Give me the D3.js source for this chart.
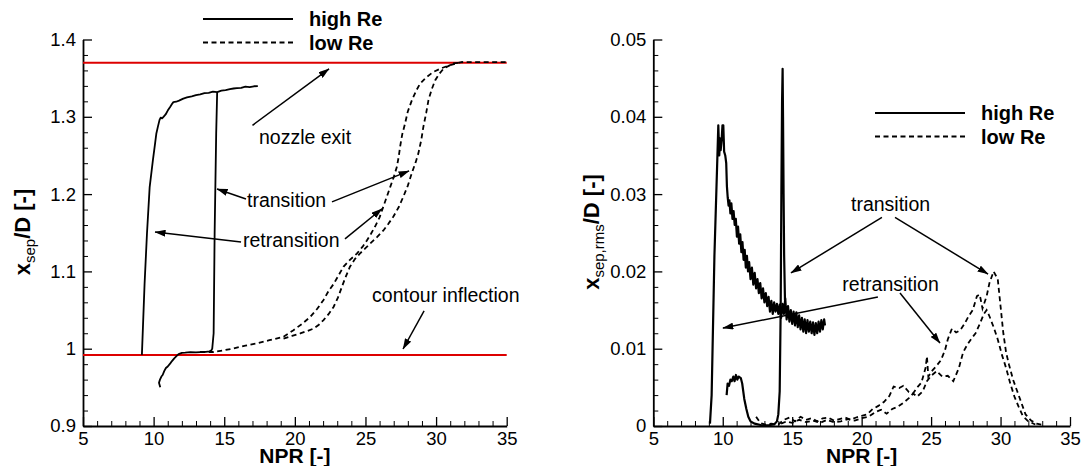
<!DOCTYPE html>
<html>
<head>
<meta charset="utf-8">
<script src="https://cdn.jsdelivr.net/npm/d3@7"></script>
<style>
  body { margin: 0; background: #fff; }
  svg text { font-family: "Liberation Sans", Arial, sans-serif; fill: #000; }
</style>
</head>
<body>
<div id="chart"></div>
<script>
// ---- data ----
var xTicks = [5, 10, 15, 20, 25, 30, 35];
var xMinor = [6,7,8,9,11,12,13,14,16,17,18,19,21,22,23,24,26,27,28,29,31,32,33,34];
var leftYTicks = [0.9, 1, 1.1, 1.2, 1.3, 1.4];
var leftYMinor = [0.92,0.94,0.96,0.98,1.02,1.04,1.06,1.08,1.12,1.14,1.16,1.18,1.22,1.24,1.26,1.28,1.32,1.34,1.36,1.38];
var rightYTicks = [0, 0.01, 0.02, 0.03, 0.04, 0.05];
var rightYMinor = [0.002,0.004,0.006,0.008,0.012,0.014,0.016,0.018,0.022,0.024,0.026,0.028,0.032,0.034,0.036,0.038,0.042,0.044,0.046,0.048];

var nozzleExit = 1.37;
var contourInflection = 0.992;

// left: x_sep/D, high Re (transition branch, then top + retransition branch)
var highUpLeft = [[10.47,0.950],[10.38,0.956],[10.45,0.960],[10.55,0.964],[10.64,0.966],[10.75,0.971],[10.87,0.975],[11.0,0.977],[11.18,0.981],[11.3,0.984],[11.46,0.9875],[11.6,0.990],[11.77,0.993],[12.0,0.9945],[12.24,0.9948],[12.6,0.9955],[13.0,0.9952],[13.3,0.9957],[13.7,0.996],[13.96,0.9966],[14.1,0.998],[14.15,1.0],[14.2,1.01],[14.25,1.02],[14.32,1.149],[14.43,1.278],[14.5,1.332]];
var highTopLeft = [[17.38,1.3397],[17.1,1.3395],[16.8,1.3385],[16.5,1.339],[16.2,1.3375],[15.9,1.3372],[15.66,1.3366],[15.4,1.3358],[15.1,1.3345],[14.8,1.3338],[14.5,1.332],[14.2,1.3325],[13.9,1.331],[13.6,1.3305],[13.3,1.329],[13.0,1.328],[12.7,1.3265],[12.36,1.325],[12.1,1.3235],[11.8,1.321],[11.6,1.3195],[11.4,1.319],[11.3,1.3165],[11.18,1.313],[11.0,1.308],[10.85,1.303],[10.7,1.30],[10.6,1.298],[10.5,1.299],[10.42,1.296],[10.3,1.287],[10.19,1.278],[10.1,1.265],[9.95,1.244],[9.72,1.209],[9.53,1.149],[9.36,1.084],[9.17,0.992]];
// left: low Re, two branches
var lowALeft = [[13.3,0.9957],[14.25,0.9957],[15.0,0.998],[15.66,1.0004],[16.5,1.004],[17.31,1.0069],[18.2,1.011],[19.2,1.0155],[19.9,1.024],[20.5,1.032],[21.08,1.041],[21.6,1.052],[22.03,1.063],[22.4,1.075],[22.74,1.0836],[23.1,1.095],[23.44,1.106],[23.9,1.115],[24.39,1.123],[24.8,1.132],[25.1,1.14],[25.4,1.149],[25.68,1.158],[26.0,1.17],[26.27,1.184],[26.5,1.196],[26.75,1.209],[27.0,1.222],[27.22,1.235],[27.35,1.248],[27.45,1.261],[27.6,1.277],[27.8,1.291],[28.0,1.307],[28.3,1.322],[28.6,1.334],[28.87,1.343],[29.3,1.351],[29.8,1.358],[30.4,1.363],[31.0,1.367],[31.8,1.3707],[35,1.3707]];
var lowBLeft = [[19.2,1.013],[19.8,1.0165],[20.38,1.0198],[20.9,1.023],[21.32,1.026],[21.7,1.031],[22.03,1.037],[22.4,1.045],[22.74,1.054],[23.05,1.066],[23.33,1.080],[23.6,1.093],[23.9,1.106],[24.25,1.116],[24.6,1.123],[25.0,1.13],[25.33,1.136],[25.8,1.144],[26.27,1.153],[26.6,1.161],[26.98,1.171],[27.35,1.183],[27.69,1.197],[28.0,1.211],[28.28,1.227],[28.55,1.241],[28.75,1.253],[28.95,1.27],[29.1,1.287],[29.3,1.305],[29.46,1.3216],[29.7,1.336],[29.93,1.347],[30.2,1.355],[30.52,1.362],[31.2,1.369],[31.9,1.3707]];

// right: x_sep,rms/D, high Re
var highDownRight = [[9.08,0.0003],[9.2,0.004],[9.4,0.022],[9.6,0.034],[9.68,0.0389],[9.75,0.035],[9.8,0.0372],[9.85,0.0357],[9.92,0.037],[9.98,0.0389],[10.04,0.0389],[10.1,0.0355],[10.18,0.035],[10.25,0.034],[10.3,0.031],[10.36,0.0295],[10.42,0.0285],[10.48,0.0292],[10.55,0.0275],[10.62,0.0288],[10.7,0.0268],[10.78,0.0278],[10.86,0.026],[10.94,0.0268],[11.02,0.0245],[11.1,0.0258],[11.18,0.0236],[11.26,0.0248],[11.34,0.0225],[11.42,0.0238],[11.5,0.0215],[11.58,0.0228],[11.66,0.0205],[11.74,0.022],[11.82,0.02],[11.9,0.0212],[12.0,0.019],[12.1,0.0205],[12.2,0.0183],[12.3,0.0198],[12.4,0.0178],[12.5,0.019],[12.6,0.0172],[12.7,0.0185],[12.8,0.0165],[12.9,0.0178],[13.0,0.016],[13.1,0.0172],[13.2,0.0155],[13.3,0.0167],[13.4,0.0148],[13.5,0.0162],[13.6,0.0145],[13.7,0.016],[13.8,0.0148],[13.9,0.0158],[14.0,0.0145],[14.1,0.0157],[14.2,0.014],[14.3,0.0158],[14.4,0.0145],[14.5,0.0165],[14.6,0.0138],[14.7,0.0155],[14.8,0.0135],[14.9,0.015],[15.0,0.0132],[15.1,0.0148],[15.2,0.013],[15.3,0.0147],[15.4,0.0128],[15.5,0.0143],[15.6,0.0125],[15.7,0.014],[15.8,0.0122],[15.9,0.0138],[16.0,0.012],[16.1,0.0137],[16.2,0.0122],[16.3,0.0135],[16.4,0.012],[16.5,0.0134],[16.6,0.0118],[16.7,0.0133],[16.8,0.012],[16.9,0.0135],[17.0,0.0122],[17.1,0.0137],[17.2,0.0125],[17.3,0.0138],[17.36,0.013]];
var highUpRight = [[10.28,0.004],[10.35,0.0055],[10.45,0.0052],[10.55,0.006],[10.65,0.0058],[10.76,0.0064],[10.85,0.0058],[10.95,0.0066],[11.05,0.006],[11.15,0.0064],[11.3,0.0062],[11.4,0.0055],[11.55,0.0035],[11.7,0.0022],[11.84,0.0012],[12.0,0.0006],[12.3,0.0003],[12.8,0.0001],[13.3,0.0001],[13.7,0.0002],[13.9,0.0006],[14.0,0.0015],[14.1,0.0045],[14.17,0.015],[14.22,0.03],[14.27,0.042],[14.31,0.0462],[14.34,0.04],[14.38,0.03],[14.42,0.022],[14.48,0.0163]];
// right: low Re, two branches
var lowARight = [[12.4,0.0012],[12.7,0.0004],[13.0,0.0002],[13.5,0.0003],[14.0,0.0002],[14.4,0.0008],[14.8,0.0011],[15.2,0.0006],[15.6,0.0012],[16.0,0.0008],[16.4,0.001],[16.8,0.0006],[17.2,0.001],[17.6,0.0011],[18.0,0.0007],[18.4,0.0009],[18.8,0.0011],[19.2,0.0008],[19.6,0.0011],[20.0,0.0013],[20.4,0.0015],[20.8,0.0022],[21.2,0.0026],[21.6,0.0031],[22.0,0.0039],[22.3,0.0051],[22.7,0.0049],[23.0,0.0052],[23.4,0.0044],[23.7,0.0042],[24.0,0.005],[24.3,0.0056],[24.6,0.0075],[24.7,0.009],[24.8,0.0064],[25.1,0.0072],[25.4,0.0078],[25.7,0.0085],[26.0,0.0098],[26.2,0.0112],[26.5,0.0126],[26.8,0.0121],[27.1,0.0124],[27.4,0.0132],[27.7,0.0142],[28.0,0.015],[28.3,0.0168],[28.5,0.017],[28.7,0.0152],[29.0,0.0168],[29.2,0.0185],[29.5,0.02],[29.8,0.019],[30.0,0.0155],[30.2,0.012],[30.4,0.0095],[30.6,0.008],[30.9,0.006],[31.2,0.0045],[31.5,0.003],[31.8,0.0015],[32.2,0.0007],[32.6,0.0003],[33.1,0.0001]];
var lowBRight = [[14.2,0.0003],[14.6,0.0006],[15.0,0.0004],[15.5,0.0008],[16.0,0.0005],[16.5,0.0007],[17.0,0.0004],[17.5,0.0008],[18.0,0.0005],[18.5,0.0006],[19.0,0.0009],[19.5,0.0007],[20.0,0.001],[20.5,0.0012],[21.0,0.0018],[21.4,0.0021],[21.8,0.0016],[22.2,0.0022],[22.6,0.0025],[23.0,0.003],[23.4,0.0036],[23.7,0.0042],[24.0,0.0038],[24.4,0.0045],[24.7,0.0058],[25.0,0.0065],[25.4,0.0071],[25.8,0.0064],[26.2,0.0065],[26.6,0.0058],[27.0,0.0075],[27.3,0.0095],[27.6,0.0105],[27.9,0.0113],[28.2,0.012],[28.5,0.0132],[28.8,0.0145],[29.0,0.015],[29.2,0.0142],[29.5,0.0128],[29.8,0.0112],[30.1,0.0092],[30.4,0.0075],[30.7,0.0055],[31.0,0.0038],[31.3,0.0025],[31.6,0.0013],[32.0,0.0006],[32.5,0.0002]];

// annotations (data coordinates): text [x, y, label, anchor], arrows [x1, y1, x2, y2]
var leftLabels = [[17.46,1.265,"nozzle exit","start"],[16.61,1.183,"transition","start"],[16.33,1.1316,"retransition","start"],[25.47,1.0604,"contour inflection","start"]];
var leftArrows = [[17.0,1.289,22.42,1.362],[16.54,1.1937,14.49,1.2066],[22.63,1.19,28.09,1.23],[16.19,1.138,10.1,1.151],[23.55,1.142,26.17,1.181],[29.15,1.0488,27.66,0.9996]];
var rightLabels = [[22.08,0.0278,"transition","middle"],[22.08,0.01746,"retransition","middle"]];
var rightArrows = [[21.46,0.027,14.91,0.0198],[22.4,0.027,29.1,0.01965],[21.17,0.01668,10.01,0.01267],[22.76,0.0172,25.64,0.01073]];

var legendItems = ["high Re", "low Re"];

// ---- drawing ----
var width = 1091, height = 466;
var svg = d3.select("#chart").append("svg")
            .attr("width", width)
            .attr("height", height);

svg.append("defs").append("marker")
    .attr("id", "arrow")
    .attr("markerUnits", "userSpaceOnUse")
    .attr("viewBox", "0 0 11 7")
    .attr("refX", 10.5).attr("refY", 3.5)
    .attr("markerWidth", 11).attr("markerHeight", 7)
    .attr("orient", "auto")
    .append("path")
    .attr("d", "M0,0 L11,3.5 L0,7 Z")
    .attr("fill", "#000");

var dash = "5,3.5";

function drawPanel(p) {
    var x = d3.scaleLinear().domain([5, 35]).range([p.left, p.right]);
    var y = d3.scaleLinear().domain(p.yDomain).range([426, 39.5]);

    // minor ticks
    svg.append("g")
        .attr("transform", "translate(0,426)")
        .call(d3.axisBottom(x).tickValues(xMinor).tickSize(-5).tickFormat(""))
        .call(g => g.select(".domain").remove());
    svg.append("g")
        .attr("transform", "translate(" + p.left + ",0)")
        .call(d3.axisLeft(y).tickValues(p.yMinor).tickSize(-5).tickFormat(""))
        .call(g => g.select(".domain").remove());

    // major ticks + labels
    var gx = svg.append("g")
        .attr("transform", "translate(0,426)")
        .call(d3.axisBottom(x).tickValues(xTicks).tickSize(-9).tickSizeOuter(0).tickPadding(6).tickFormat(d => String(d)));
    var gy = svg.append("g")
        .attr("transform", "translate(" + p.left + ",0)")
        .call(d3.axisLeft(y).tickValues(p.yTicks).tickSize(-9).tickSizeOuter(0).tickPadding(7).tickFormat(d => String(d)));

    [gx, gy].forEach(function(g) {
        g.selectAll("text").attr("font-size", 18.5).attr("font-family", null);
        g.selectAll("line").attr("stroke", "#000").attr("stroke-width", 1.3);
        g.select(".domain").attr("stroke", "#000").attr("stroke-width", 1.8);
    });

    var line = d3.line().x(d => x(d[0])).y(d => y(d[1]));

    // reference lines
    (p.refLines || []).forEach(function(v) {
        svg.append("line")
            .attr("x1", x(5)).attr("x2", x(35))
            .attr("y1", y(v)).attr("y2", y(v))
            .attr("stroke", "#dd0000").attr("stroke-width", 2);
    });

    p.solid.forEach(function(s) {
        svg.append("path").datum(s)
            .attr("d", line).attr("fill", "none")
            .attr("stroke", "#000").attr("stroke-width", p.solidWidth)
            .attr("stroke-linejoin", "round");
    });
    p.dashed.forEach(function(s) {
        svg.append("path").datum(s)
            .attr("d", line).attr("fill", "none")
            .attr("stroke", "#000").attr("stroke-width", 1.8)
            .attr("stroke-dasharray", dash);
    });

    // annotations
    svg.selectAll(null).data(p.labels).enter().append("text")
        .attr("x", d => x(d[0])).attr("y", d => y(d[1]))
        .attr("text-anchor", d => d[3])
        .attr("font-size", 19.5)
        .text(d => d[2]);
    svg.selectAll(null).data(p.arrows).enter().append("line")
        .attr("x1", d => x(d[0])).attr("y1", d => y(d[1]))
        .attr("x2", d => x(d[2])).attr("y2", d => y(d[3]))
        .attr("stroke", "#000").attr("stroke-width", 1.5)
        .attr("marker-end", "url(#arrow)");

    // legend
    legendItems.forEach(function(name, i) {
        var ly = p.legend[1] + i * 23.5;
        svg.append("line")
            .attr("x1", p.legend[0]).attr("x2", p.legend[0] + 90)
            .attr("y1", ly).attr("y2", ly)
            .attr("stroke", "#000").attr("stroke-width", 1.8)
            .attr("stroke-dasharray", i === 0 ? null : dash);
        svg.append("text")
            .attr("x", p.legend[0] + 106).attr("y", ly + 7)
            .attr("font-size", 20).attr("font-weight", "bold")
            .text(name);
    });

    // axis titles
    svg.append("text")
        .attr("x", (p.left + p.right) / 2).attr("y", 462.5)
        .attr("text-anchor", "middle")
        .attr("font-size", 21).attr("font-weight", "bold")
        .text("NPR [-]");

    var yt = svg.append("text")
        .attr("transform", "translate(" + p.titleX + ",232) rotate(-90)")
        .attr("text-anchor", "middle")
        .attr("font-size", 22).attr("font-weight", "bold");
    yt.append("tspan").text("x");
    yt.append("tspan").attr("dy", 5).attr("font-size", 15).attr("font-weight", "normal").text(p.sub);
    yt.append("tspan").attr("dy", -5).text("/D [-]");
}

drawPanel({
    left: 83, right: 506.7,
    yDomain: [0.9, 1.4], yTicks: leftYTicks, yMinor: leftYMinor,
    refLines: [nozzleExit, contourInflection],
    solid: [highUpLeft, highTopLeft], solidWidth: 1.8,
    dashed: [lowALeft, lowBLeft],
    labels: leftLabels, arrows: leftArrows,
    legend: [203, 19], titleX: 30, sub: "sep"
});

drawPanel({
    left: 653.3, right: 1070,
    yDomain: [0, 0.05], yTicks: rightYTicks, yMinor: rightYMinor,
    solid: [highDownRight, highUpRight], solidWidth: 2.2,
    dashed: [lowARight, lowBRight],
    labels: rightLabels, arrows: rightArrows,
    legend: [875, 113], titleX: 599, sub: "sep,rms"
});
</script>
</body>
</html>
